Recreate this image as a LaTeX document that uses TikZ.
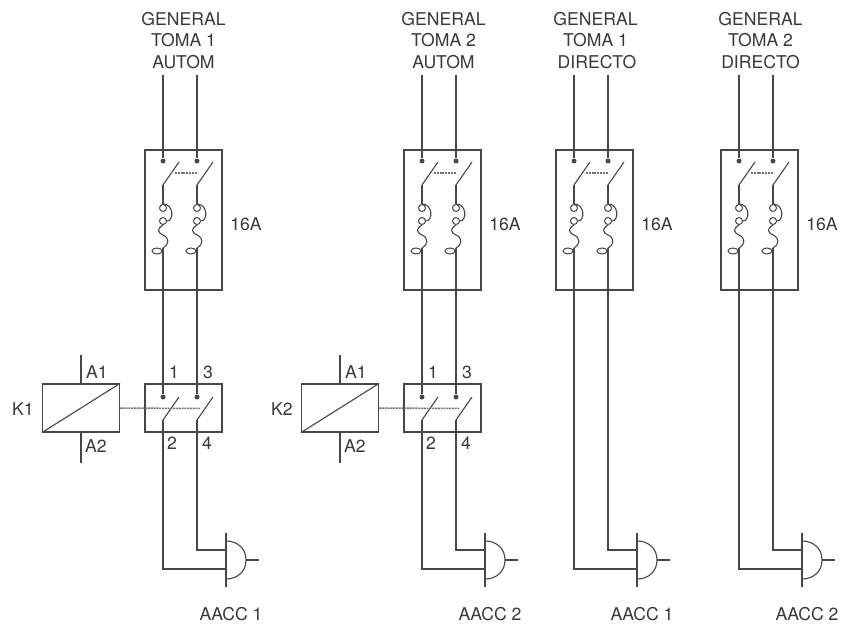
\documentclass[tikz,border=0pt]{standalone}
\usepackage{fontspec}
\setmainfont{TeX Gyre Heros}
\tikzset{
  wire/.style={draw=black!72,line width=1.1pt},
  boxn/.style={draw=black!72,line width=1.1pt,minimum width=77pt,inner sep=0pt},
  lnk/.style={draw=black!55,line width=1.5pt,dash pattern=on 2pt off 0.8pt},
  dotn/.style={circle,fill=black!72,inner sep=0pt,minimum size=5pt},
  ringn/.style={circle,draw=black!72,line width=1pt,inner sep=0pt,minimum size=7pt},
  txt/.style={font=\fontsize{17.6}{20}\selectfont,text=black!78,inner sep=0pt},
}
% one pole of the breaker: #1 prefix, #2 x
\newcommand{\BreakerPole}[2]{
  \coordinate (#1top) at (#2,75);
  \node[dotn] (#1in) at (#2,161) {};
  \coordinate (#1hinge) at (#2,185);
  \coordinate (#1tip) at (#2+16,162);
  \node[ringn] (#1fa) at (#2,208) {};
  \node[ringn] (#1fb) at (#2,221) {};
  \coordinate (#1w) at (#2,248);
  \node[ringn,ellipse,minimum width=10pt,minimum height=6pt] (#1ov) at (#2-6,251) {};
  \coordinate (#1out) at (#2,251);
  \draw[wire] (#1top) -- (#1in);
  \draw[wire] (#1hinge) -- (#1tip);
  \draw[wire] (#1hinge) -- (#1fa);
  \draw[wire] (#1fa.north) .. controls (#2+11,204) and (#2+11,221) .. (#1fb.east);
  \draw[wire] (#1fb.south) .. controls (#2-6,229) and (#2-6,232) .. (#2,235) .. controls (#2+7,238) and (#2+6,245) .. (#1w);
  \draw[wire] (#1w) -- (#1out);
  \draw[wire] (#1ov) -- (#1out);
}
% gate: #1 prefix, #2 x of the bar
\newcommand{\Gate}[2]{
  \coordinate (#1bt) at (#2,533);
  \coordinate (#1bb) at (#2,587);
  \coordinate (#1ia) at (#2,550);
  \coordinate (#1ib) at (#2,569);
  \coordinate (#1o) at (#2+20,560);
  \coordinate (#1e) at (#2+33,560);
  \draw[wire] (#1bt) -- (#1bb);
  \draw[wire] (#2,541) .. controls (#2+12,541) and (#2+20,549) .. (#1o) .. controls (#2+20,571) and (#2+12,579) .. (#2,579);
  \draw[wire] (#1o) -- (#1e);
}
% full column: #1 prefix, #2 left wire x, #3 gate bar x, #4 label x, #5,#6,#7 heading lines, #8 load label
\newcommand{\Column}[8]{
  \node[boxn,minimum height=140pt] (#1brk) at (#2+20.5,220) {};
  \BreakerPole{#1a}{#2}
  \BreakerPole{#1b}{#2+34}
  \draw[lnk] (#2+12,173) -- (#2+34,173);
  \node[txt] (#1h1) at (#4,19) {#5};
  \node[txt] (#1h2) at (#4,40) {#6};
  \node[txt] (#1h3) at (#4,62) {#7};
  \node[txt] (#1amp) at (#2+83,224) {16A};
  \Gate{#1g}{#3}
  \node[txt] (#1load) at (#3+5,614) {#8};
}
% contactor: prefix, left wire x, coil name
\newcommand{\Contactor}[3]{
  \node[boxn,minimum height=48pt] (#1con) at (#2+20.5,408) {};
  \node[boxn,minimum height=48pt] (#1coil) at (#2-82,408) {};
  \draw[wire] (#1coil.south west) -- (#1coil.north east);
  \coordinate (#1ct) at (#2-82,355);
  \coordinate (#1cb) at (#2-82,463);
  \draw[wire] (#1ct) -- (#1coil.north);
  \draw[wire] (#1coil.south) -- (#1cb);
  \node[dotn] (#1da) at (#2,397) {};
  \node[dotn] (#1db) at (#2+34,397) {};
  \coordinate (#1ha) at (#2,420);
  \coordinate (#1hb) at (#2+34,420);
  \coordinate (#1ta) at (#2+16,397);
  \coordinate (#1tb) at (#2+50,397);
  \draw[wire] (#1aout) -- (#1da);
  \draw[wire] (#1bout) -- (#1db);
  \draw[wire] (#1ha) -- (#1ta);
  \draw[wire] (#1hb) -- (#1tb);
  \draw[lnk] (#1coil.east) -- (#2+37,408.5);
  \draw[wire] (#1ha) |- (#1gib);
  \draw[wire] (#1hb) |- (#1gia);
  \node[txt] (#1A1) at (#2-66,372) {A1};
  \node[txt] (#1A2) at (#2-67,446) {A2};
  \node[txt] (#1K) at (#2-140,409) {#3};
  \node[txt] (#1n1) at (#2+11,372) {1};
  \node[txt] (#1n3) at (#2+45,372) {3};
  \node[txt] (#1n2) at (#2+9,443) {2};
  \node[txt] (#1n4) at (#2+44,443) {4};
}
\usetikzlibrary{calc,shapes.geometric}
\begin{document}
\begin{tikzpicture}[x=1pt,y=-1pt]
\useasboundingbox (0,0) rectangle (844,626);
\Column{p}{163}{226}{183.5}{GENERAL}{TOMA 1}{AUTOM}{AACC 1}
\Contactor{p}{163}{K1}
\Column{q}{422}{485}{443.5}{GENERAL}{TOMA 2}{AUTOM}{AACC 2}
\Contactor{q}{422}{K2}
\Column{r}{574}{637}{595.5}{GENERAL}{TOMA 1}{\,DIRECTO}{AACC 1}
\draw[wire] (raout) |- (rgib);
\draw[wire] (rbout) |- (rgia);
\Column{s}{739}{802}{760.5}{GENERAL}{TOMA 2}{DIRECTO}{AACC 2}
\draw[wire] (saout) |- (sgib);
\draw[wire] (sbout) |- (sgia);
\end{tikzpicture}
\end{document}
